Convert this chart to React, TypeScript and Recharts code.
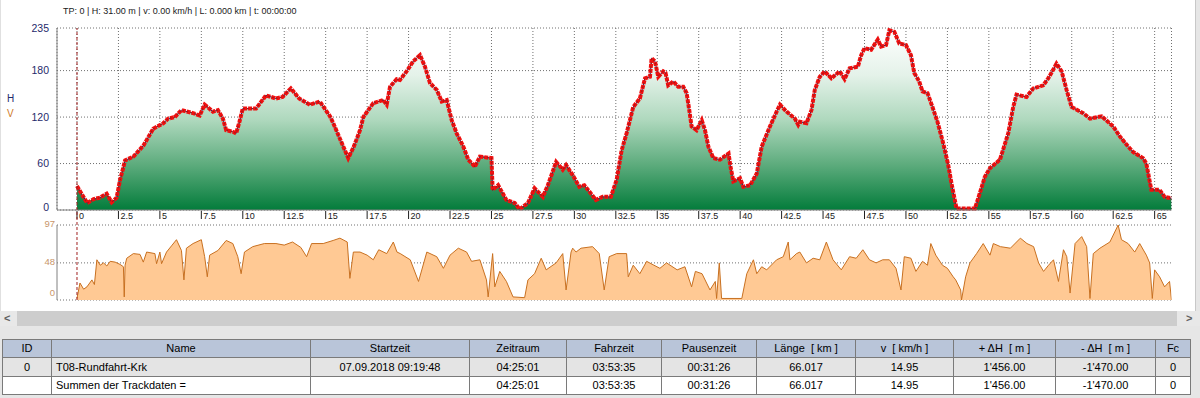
import React from "react";
import {
  ComposedChart,
  Area,
  Line,
  XAxis,
  YAxis,
  CartesianGrid,
  ReferenceLine,
} from "recharts";

// elevation profile, km along the track / height in m
const elevKm = [
  0, 0.3, 0.62, 1.0, 1.39, 1.79, 2.09, 2.39, 2.6, 2.9, 3.4, 4.0, 4.6, 5.2, 5.5,
  5.9, 6.3, 7.0, 7.4, 7.7, 8.2, 8.5, 8.8, 9.0, 9.4, 9.6, 9.8, 10.0, 10.8, 11.4,
  12.0, 12.4, 12.9, 13.4, 14.05, 14.65, 15.26, 15.46, 16.06, 16.36, 16.7, 17.07,
  17.27, 17.87, 18.47, 18.68, 18.88, 19.28, 19.48, 19.88, 20.28, 20.69, 20.99,
  21.29, 21.7, 22.0, 22.3, 22.6, 22.9, 23.3, 23.6, 24.0, 24.3, 25.0, 25.07, 25.4,
  25.9, 26.4, 26.7, 27.2, 27.6, 28.1, 28.4, 28.9, 29.3, 29.5, 29.9, 30.3, 30.6,
  31.3, 31.7, 32.2, 32.55, 32.85, 33.15, 33.55, 33.95, 34.26, 34.56, 34.66,
  34.86, 35.06, 35.36, 35.5, 35.66, 35.97, 36.27, 36.57, 36.77, 36.93, 37.07,
  37.37, 37.68, 37.88, 38.08, 38.38, 38.78, 39.3, 39.4, 39.59, 39.99, 40.19,
  40.6, 41.0, 41.3, 41.8, 42.2, 42.4, 42.8, 43.3, 43.5, 43.6, 44.0, 44.3, 44.5,
  44.8, 45.1, 45.5, 46.0, 46.3, 46.6, 47.1, 47.3, 47.5, 47.9, 48.3, 48.5, 48.8,
  49.0, 49.3, 49.6, 50.0, 50.3, 50.5, 50.8, 51.0, 51.3, 51.6, 51.9, 52.25,
  52.55, 52.75, 53.05, 54.16, 54.46, 54.76, 55.07, 55.67, 56.17, 56.47, 56.67,
  57.27, 57.68, 58.28, 58.58, 58.88, 59.08, 59.39, 59.69, 59.99, 60.69, 61.1,
  61.8, 62.5, 62.9, 63.4, 63.7, 64.3, 64.5, 64.8, 65.3, 65.6, 66.017,
];
const elevM = [
  31, 20, 9, 14, 16, 21, 10, 16, 39, 64, 69, 83, 105, 112, 118, 120, 129, 125,
  122, 136, 127, 129, 118, 103, 101, 99, 114, 131, 131, 148, 144, 146, 157, 144,
  136, 140, 121, 112, 82, 67, 82, 103, 120, 138, 142, 136, 159, 169, 168, 179,
  192, 200, 185, 164, 155, 140, 142, 116, 99, 82, 65, 56, 69, 67, 26, 32, 13, 9,
  1, 9, 28, 17, 32, 62, 52, 58, 45, 30, 32, 13, 17, 17, 39, 77, 99, 133, 144,
  170, 172, 196, 192, 172, 179, 177, 161, 166, 159, 159, 151, 129, 108, 103, 116,
  103, 82, 67, 65, 73, 58, 37, 41, 30, 32, 47, 82, 108, 127, 136, 127, 118, 110,
  114, 112, 129, 155, 172, 179, 170, 179, 169, 183, 185, 200, 209, 207, 220, 211,
  213, 232, 230, 215, 213, 200, 177, 166, 153, 151, 133, 114, 86, 58, 34, 2, 2,
  22, 43, 54, 65, 99, 133, 149, 146, 157, 161, 170, 181, 189, 179, 155, 133, 125,
  118, 121, 108, 95, 82, 75, 67, 60, 26, 26, 17, 15,
];

// speed, km along the track / value
const speedKm = [
  0, 0.18, 0.4, 0.6, 0.9, 1.05, 1.2, 1.4, 1.6, 1.8, 2.0, 2.3, 2.6, 2.8, 2.85,
  2.9, 3.0, 3.4, 3.8, 4.0, 4.2, 4.7, 4.8, 5.0, 5.1, 5.4, 5.7, 6.0, 6.3, 6.45,
  6.6, 7.0, 7.5, 7.7, 7.86, 8.0, 8.5, 9.0, 9.4, 9.7, 9.9, 10.1, 10.6, 11.3,
  12.0, 12.5, 13.0, 13.5, 13.85, 14.15, 14.85, 15.45, 15.86, 16.3, 16.46, 16.67,
  17.07, 17.5, 17.87, 18.2, 18.68, 19.08, 19.3, 19.5, 20.1, 20.6, 21.1, 21.7,
  22.1, 22.5, 23.0, 23.5, 23.8, 24.3, 24.7, 24.8, 25.07, 25.2, 25.5, 25.9, 26.3,
  27.0, 27.2, 27.6, 28.0, 28.3, 28.9, 29.3, 29.5, 29.8, 29.9, 30.1, 30.4, 31.1,
  31.5, 31.8, 32.1, 32.55, 33.15, 33.25, 33.55, 33.95, 34.36, 34.8, 35.16,
  35.56, 36.2, 36.67, 37.07, 37.3, 37.7, 38.18, 38.5, 38.58, 38.74, 38.88, 40.1,
  40.4, 40.8, 41.0, 41.3, 41.6, 42.2, 42.6, 42.9, 43.0, 43.4, 43.6, 44.0, 44.4,
  44.8, 45.2, 45.6, 46.1, 46.6, 47.0, 47.4, 47.8, 48.2, 48.6, 49.0, 49.4, 49.7,
  49.9, 50.3, 50.6, 51.0, 51.3, 51.5, 51.8, 52.2, 52.5, 52.85, 53.0, 53.3,
  53.35, 53.6, 53.86, 54.26, 54.66, 55.07, 55.27, 55.7, 56.3, 56.9, 57.3, 57.7,
  58.0, 58.3, 58.6, 58.9, 59.2, 59.5, 59.7, 59.9, 60.2, 60.6, 60.9, 61.1, 61.3,
  61.7, 62.3, 62.8, 63.0, 63.4, 63.8, 64.1, 64.5, 64.7, 64.86, 65.0, 65.3, 65.6,
  65.9, 66.017,
];
const speedV = [
  2, 22, 14, 17, 26, 20, 52, 45, 48, 44, 50, 49, 46, 43, 4, 45, 54, 60, 59, 49,
  62, 60, 47, 62, 47, 62, 70, 78, 64, 26, 67, 73, 78, 56, 30, 58, 64, 77, 73, 56,
  34, 62, 69, 73, 73, 71, 75, 68, 56, 73, 73, 77, 80, 75, 28, 62, 62, 58, 52, 65,
  60, 75, 62, 60, 52, 24, 62, 56, 41, 58, 67, 62, 50, 52, 26, 4, 60, 17, 37, 24,
  4, 3, 26, 34, 54, 39, 48, 60, 13, 62, 67, 62, 67, 69, 60, 13, 56, 60, 60, 30,
  45, 34, 50, 45, 41, 48, 39, 43, 17, 37, 34, 13, 24, 2, 48, 2, 2, 34, 52, 34,
  43, 39, 52, 56, 75, 52, 60, 62, 48, 54, 52, 75, 52, 39, 56, 54, 65, 52, 48,
  52, 52, 41, 13, 56, 54, 37, 50, 45, 73, 58, 45, 41, 30, 26, 13, 0, 30, 48, 60,
  73, 58, 73, 69, 67, 80, 73, 69, 48, 37, 45, 52, 24, 65, 56, 9, 73, 82, 69, 2,
  60, 67, 75, 97, 78, 73, 62, 73, 58, 48, 2, 39, 30, 17, 24, 0,
];

const kmTicks = [
  0, 2.5, 5, 7.5, 10, 12.5, 15, 17.5, 20, 22.5, 25, 27.5, 30, 32.5, 35, 37.5,
  40, 42.5, 45, 47.5, 50, 52.5, 55, 57.5, 60, 62.5, 65,
];
const heightTicks = [0, 60, 120, 180, 235];
const speedTicks = [0, 48, 97];

const tableHeader = [
  "ID", "Name", "Startzeit", "Zeitraum", "Fahrzeit", "Pausenzeit",
  "Länge  [ km ]", "v  [ km/h ]", "+ ΔH  [ m ]", "- ΔH  [ m ]", "Fc",
];
const tableRows = [
  ["0", "T08-Rundfahrt-Krk", "07.09.2018 09:19:48", "04:25:01", "03:53:35",
    "00:31:26", "66.017", "14.95", "1'456.00", "-1'470.00", "0"],
  ["", "Summen der Trackdaten =", "", "04:25:01", "03:53:35", "00:31:26",
    "66.017", "14.95", "1'456.00", "-1'470.00", "0"],
];

const FONT = "'Liberation Sans', Arial, sans-serif";
const X_DOMAIN: [number, number] = [-1.206, 66.017];
const colEdges = [2, 51, 310, 469, 566, 661, 756, 855, 953, 1055, 1155, 1190];
const rowEdges = [339, 357, 376, 394];
const rowBg = ["#b9c5d9", "#e4e4e4", "#ffffff"];

const elevData = elevKm.map((km, i) => ({ km, h: elevM[i] }));
const speedData = speedKm.map((km, i) => ({ km, v: speedV[i] }));

const KmTick = (props: any) => {
  const { x, y, payload } = props;
  return (
    <g>
      <line x1={x} x2={x} y1={y + 1} y2={y + 9} stroke="#202020" />
      <text x={x + 2} y={y + 9} fontSize={9} fill="#202020" fontFamily={FONT}>
        {payload.value}
      </text>
    </g>
  );
};

// value labels sit a little above the bottom line
const HeightTick = (props: any) => {
  const { x, y, payload } = props;
  return (
    <text
      x={x}
      y={payload.value === 0 ? y - 3 : y}
      dy="0.355em"
      textAnchor="end"
      fontSize={10.5}
      fill="#1f2a6b"
      fontFamily={FONT}
    >
      {payload.value}
    </text>
  );
};

const SpeedTick = (props: any) => {
  const { x, y, payload } = props;
  return (
    <text
      x={x}
      y={payload.value === 0 ? y - 7 : y - 1}
      dy="0.355em"
      textAnchor="end"
      fontSize={9.5}
      fill="#c8956a"
      fontFamily={FONT}
    >
      {payload.value}
    </text>
  );
};

const App: React.FC = () => {
  const allRows = [tableHeader, ...tableRows];
  return (
    <div
      style={{
        position: "absolute",
        left: 0,
        top: 0,
        width: 1200,
        height: 398,
        background: "#e6e6e6",
        fontFamily: FONT,
        overflow: "hidden",
      }}
    >
      {/* chart panel */}
      <div
        style={{
          position: "absolute",
          left: 0,
          top: 0,
          width: 1194,
          height: 311,
          background: "#ffffff",
          borderLeft: "1px solid #e0e0e0",
          borderRight: "1px solid #c8c8c8",
        }}
      />
      <div
        style={{
          position: "absolute",
          left: 63,
          top: 6,
          fontSize: 9,
          color: "#202020",
          whiteSpace: "pre",
        }}
      >
        TP: 0 | H: 31.00 m | v: 0.00 km/h | L: 0.000 km | t: 00:00:00
      </div>
      <div style={{ position: "absolute", left: 7, top: 93, fontSize: 10, color: "#1f2a6b" }}>H</div>
      <div style={{ position: "absolute", left: 7, top: 108, fontSize: 10, color: "#d07a2a" }}>V</div>

      <div style={{ position: "absolute", left: 0, top: 0 }}>
        <ComposedChart
          width={1200}
          height={230}
          data={elevData}
          margin={{ top: 28, right: 28.5, bottom: 6, left: 7 }}
        >
          <defs>
            <linearGradient id="elevFill" x1="0" y1="0" x2="0" y2="1">
              <stop offset="0%" stopColor="#ffffff" />
              <stop offset="25%" stopColor="#e4f2e9" />
              <stop offset="50%" stopColor="#aed8bd" />
              <stop offset="75%" stopColor="#5cab7c" />
              <stop offset="100%" stopColor="#037c3b" />
            </linearGradient>
          </defs>
          <CartesianGrid stroke="#707070" strokeDasharray="1 2" />
          <XAxis
            dataKey="km"
            type="number"
            domain={X_DOMAIN}
            allowDataOverflow
            ticks={kmTicks}
            interval={0}
            height={14}
            tickSize={0}
            tickMargin={0}
            tickLine={false}
            axisLine={{ stroke: "#808080" }}
            tick={<KmTick />}
          />
          <YAxis
            type="number"
            domain={[0, 235]}
            ticks={heightTicks}
            interval={0}
            width={50}
            tickLine={false}
            axisLine={{ stroke: "#808080" }}
            tick={<HeightTick />}
          />
          <Area
            type="linear"
            dataKey="h"
            stroke="#1a1a6e"
            strokeWidth={1}
            fill="url(#elevFill)"
            fillOpacity={1}
            isAnimationActive={false}
          />
          <Line
            type="linear"
            dataKey="h"
            stroke="#f01010"
            strokeWidth={4}
            strokeDasharray="4 1"
            dot={false}
            isAnimationActive={false}
          />
          <Line
            type="linear"
            dataKey="h"
            stroke="#a01818"
            strokeWidth={1.2}
            strokeDasharray="1.5 2.5"
            dot={false}
            isAnimationActive={false}
          />
          <ReferenceLine x={0} stroke="#a02020" strokeDasharray="3 2" />
        </ComposedChart>
      </div>

      <div style={{ position: "absolute", left: 0, top: 200 }}>
        <ComposedChart
          width={1200}
          height={110}
          data={speedData}
          margin={{ top: 25, right: 28.5, bottom: 10, left: 7 }}
        >
          <CartesianGrid stroke="#707070" strokeDasharray="1 2" vertical={false} />
          <XAxis
            dataKey="km"
            type="number"
            domain={X_DOMAIN}
            allowDataOverflow
            hide
          />
          <YAxis
            type="number"
            domain={[0, 97]}
            ticks={speedTicks}
            interval={0}
            width={50}
            tickLine={false}
            tickSize={0}
            tickMargin={2}
            axisLine={{ stroke: "#808080" }}
            tick={<SpeedTick />}
          />
          <Area
            type="linear"
            dataKey="v"
            stroke="#c87020"
            strokeWidth={1}
            fill="#ffc994"
            fillOpacity={1}
            isAnimationActive={false}
          />
          <ReferenceLine
            segment={[{ x: 0, y: 0 }, { x: 0, y: 117 }]}
            ifOverflow="visible"
            stroke="#a02020"
            strokeDasharray="3 2"
          />
        </ComposedChart>
      </div>

      {/* scrollbar */}
      <div style={{ position: "absolute", left: 0, top: 311, width: 1200, height: 15, background: "#e8e8e8" }} />
      <div style={{ position: "absolute", left: 17, top: 311, width: 1160, height: 15, background: "#cdcdcd" }} />
      <div style={{ position: "absolute", left: 4, top: 311, height: 15, lineHeight: "15px", fontSize: 11, fontWeight: "bold", color: "#606060" }}>&lt;</div>
      <div style={{ position: "absolute", left: 1186, top: 311, height: 15, lineHeight: "15px", fontSize: 11, fontWeight: "bold", color: "#606060" }}>&gt;</div>

      {/* table */}
      {allRows.map((row, r) =>
        row.map((cell, c) => (
          <div
            key={`${r}-${c}`}
            style={{
              position: "absolute",
              left: colEdges[c],
              top: rowEdges[r],
              width: colEdges[c + 1] - colEdges[c] + 1,
              height: (rowEdges[r + 1] ?? 394) - rowEdges[r] + 1,
              boxSizing: "border-box",
              border: "1px solid #7a7a7a",
              background: rowBg[r],
              fontSize: 11,
              color: "#000",
              lineHeight: `${(rowEdges[r + 1] ?? 394) - rowEdges[r] - 1}px`,
              textAlign: c === 1 && r > 0 ? "left" : "center",
              paddingLeft: c === 1 && r > 0 ? 4 : 0,
              whiteSpace: "pre",
              overflow: "hidden",
            }}
          >
            {cell}
          </div>
        ))
      )}
    </div>
  );
};

export default App;
